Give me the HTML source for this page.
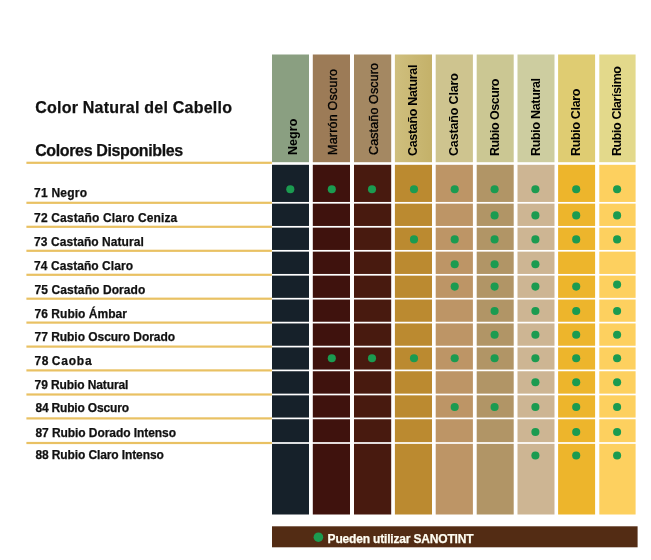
<!DOCTYPE html>
<html lang="es">
<head>
<meta charset="utf-8">
<title>Color Natural del Cabello</title>
<style>
html,body{margin:0;padding:0;background:#fff;}
body{width:651px;height:560px;position:relative;overflow:hidden;font-family:'Liberation Sans',sans-serif;color:#111;}
.abs,.t,.v{position:absolute;}
.t,.v{white-space:nowrap;font-weight:bold;line-height:1;-webkit-text-stroke:0.25px currentColor;}
.v{transform-origin:0 0;transform:rotate(-90deg);color:#000;-webkit-text-stroke:0;}
.m{-webkit-text-stroke:0.35px #000;}
</style>
</head>
<body>
<svg class="abs" style="left:0;top:0" width="651" height="560" viewBox="0 0 651 560">
<defs><linearGradient id="g4" x1="0" x2="1" y1="0" y2="0"><stop offset="0" stop-color="#cfbf7e"/><stop offset="1" stop-color="#c4b169"/></linearGradient></defs>
<rect x="272" y="54.5" width="37" height="107.7" fill="#8a9f81"/>
<rect x="312.8" y="54.5" width="37.2" height="107.7" fill="#9c7b57"/>
<rect x="354.0" y="54.5" width="37.2" height="107.7" fill="#a48862"/>
<rect x="394.9" y="54.5" width="37.1" height="107.7" fill="url(#g4)"/>
<rect x="435.7" y="54.5" width="37.2" height="107.7" fill="#cec48f"/>
<rect x="476.7" y="54.5" width="37" height="107.7" fill="#cbc793"/>
<rect x="517.5" y="54.5" width="37" height="107.7" fill="#cdcda0"/>
<rect x="558.1" y="54.5" width="37" height="107.7" fill="#dfcc72"/>
<rect x="599.3" y="54.5" width="36.3" height="107.7" fill="#e3d98b"/>
<rect x="272" y="164.80" width="37" height="37.15" fill="#16212a"/>
<rect x="272" y="203.65" width="37" height="22.30" fill="#16212a"/>
<rect x="272" y="227.65" width="37" height="22.30" fill="#16212a"/>
<rect x="272" y="251.65" width="37" height="22.30" fill="#16212a"/>
<rect x="272" y="275.65" width="37" height="22.20" fill="#16212a"/>
<rect x="272" y="299.55" width="37" height="22.20" fill="#16212a"/>
<rect x="272" y="323.45" width="37" height="22.30" fill="#16212a"/>
<rect x="272" y="347.45" width="37" height="22.10" fill="#16212a"/>
<rect x="272" y="371.25" width="37" height="22.40" fill="#16212a"/>
<rect x="272" y="395.35" width="37" height="22.20" fill="#16212a"/>
<rect x="272" y="419.25" width="37" height="22.90" fill="#16212a"/>
<rect x="272" y="443.85" width="37" height="70.65" fill="#16212a"/>
<rect x="312.8" y="164.80" width="37.2" height="37.15" fill="#3f120d"/>
<rect x="312.8" y="203.65" width="37.2" height="22.30" fill="#3f120d"/>
<rect x="312.8" y="227.65" width="37.2" height="22.30" fill="#3f120d"/>
<rect x="312.8" y="251.65" width="37.2" height="22.30" fill="#3f120d"/>
<rect x="312.8" y="275.65" width="37.2" height="22.20" fill="#3f120d"/>
<rect x="312.8" y="299.55" width="37.2" height="22.20" fill="#3f120d"/>
<rect x="312.8" y="323.45" width="37.2" height="22.30" fill="#3f120d"/>
<rect x="312.8" y="347.45" width="37.2" height="22.10" fill="#3f120d"/>
<rect x="312.8" y="371.25" width="37.2" height="22.40" fill="#3f120d"/>
<rect x="312.8" y="395.35" width="37.2" height="22.20" fill="#3f120d"/>
<rect x="312.8" y="419.25" width="37.2" height="22.90" fill="#3f120d"/>
<rect x="312.8" y="443.85" width="37.2" height="70.65" fill="#3f120d"/>
<rect x="354.0" y="164.80" width="37.2" height="37.15" fill="#481a0f"/>
<rect x="354.0" y="203.65" width="37.2" height="22.30" fill="#481a0f"/>
<rect x="354.0" y="227.65" width="37.2" height="22.30" fill="#481a0f"/>
<rect x="354.0" y="251.65" width="37.2" height="22.30" fill="#481a0f"/>
<rect x="354.0" y="275.65" width="37.2" height="22.20" fill="#481a0f"/>
<rect x="354.0" y="299.55" width="37.2" height="22.20" fill="#481a0f"/>
<rect x="354.0" y="323.45" width="37.2" height="22.30" fill="#481a0f"/>
<rect x="354.0" y="347.45" width="37.2" height="22.10" fill="#481a0f"/>
<rect x="354.0" y="371.25" width="37.2" height="22.40" fill="#481a0f"/>
<rect x="354.0" y="395.35" width="37.2" height="22.20" fill="#481a0f"/>
<rect x="354.0" y="419.25" width="37.2" height="22.90" fill="#481a0f"/>
<rect x="354.0" y="443.85" width="37.2" height="70.65" fill="#481a0f"/>
<rect x="394.9" y="164.80" width="37.1" height="37.15" fill="#bb8a30"/>
<rect x="394.9" y="203.65" width="37.1" height="22.30" fill="#bb8a30"/>
<rect x="394.9" y="227.65" width="37.1" height="22.30" fill="#bb8a30"/>
<rect x="394.9" y="251.65" width="37.1" height="22.30" fill="#bb8a30"/>
<rect x="394.9" y="275.65" width="37.1" height="22.20" fill="#bb8a30"/>
<rect x="394.9" y="299.55" width="37.1" height="22.20" fill="#bb8a30"/>
<rect x="394.9" y="323.45" width="37.1" height="22.30" fill="#bb8a30"/>
<rect x="394.9" y="347.45" width="37.1" height="22.10" fill="#bb8a30"/>
<rect x="394.9" y="371.25" width="37.1" height="22.40" fill="#bb8a30"/>
<rect x="394.9" y="395.35" width="37.1" height="22.20" fill="#bb8a30"/>
<rect x="394.9" y="419.25" width="37.1" height="22.90" fill="#bb8a30"/>
<rect x="394.9" y="443.85" width="37.1" height="70.65" fill="#bb8a30"/>
<rect x="435.7" y="164.80" width="37.2" height="37.15" fill="#bd9566"/>
<rect x="435.7" y="203.65" width="37.2" height="22.30" fill="#bd9566"/>
<rect x="435.7" y="227.65" width="37.2" height="22.30" fill="#bd9566"/>
<rect x="435.7" y="251.65" width="37.2" height="22.30" fill="#bd9566"/>
<rect x="435.7" y="275.65" width="37.2" height="22.20" fill="#bd9566"/>
<rect x="435.7" y="299.55" width="37.2" height="22.20" fill="#bd9566"/>
<rect x="435.7" y="323.45" width="37.2" height="22.30" fill="#bd9566"/>
<rect x="435.7" y="347.45" width="37.2" height="22.10" fill="#bd9566"/>
<rect x="435.7" y="371.25" width="37.2" height="22.40" fill="#bd9566"/>
<rect x="435.7" y="395.35" width="37.2" height="22.20" fill="#bd9566"/>
<rect x="435.7" y="419.25" width="37.2" height="22.90" fill="#bd9566"/>
<rect x="435.7" y="443.85" width="37.2" height="70.65" fill="#bd9566"/>
<rect x="476.7" y="164.80" width="37" height="37.15" fill="#b19566"/>
<rect x="476.7" y="203.65" width="37" height="22.30" fill="#b19566"/>
<rect x="476.7" y="227.65" width="37" height="22.30" fill="#b19566"/>
<rect x="476.7" y="251.65" width="37" height="22.30" fill="#b19566"/>
<rect x="476.7" y="275.65" width="37" height="22.20" fill="#b19566"/>
<rect x="476.7" y="299.55" width="37" height="22.20" fill="#b19566"/>
<rect x="476.7" y="323.45" width="37" height="22.30" fill="#b19566"/>
<rect x="476.7" y="347.45" width="37" height="22.10" fill="#b19566"/>
<rect x="476.7" y="371.25" width="37" height="22.40" fill="#b19566"/>
<rect x="476.7" y="395.35" width="37" height="22.20" fill="#b19566"/>
<rect x="476.7" y="419.25" width="37" height="22.90" fill="#b19566"/>
<rect x="476.7" y="443.85" width="37" height="70.65" fill="#b19566"/>
<rect x="517.5" y="164.80" width="37" height="37.15" fill="#cdb593"/>
<rect x="517.5" y="203.65" width="37" height="22.30" fill="#cdb593"/>
<rect x="517.5" y="227.65" width="37" height="22.30" fill="#cdb593"/>
<rect x="517.5" y="251.65" width="37" height="22.30" fill="#cdb593"/>
<rect x="517.5" y="275.65" width="37" height="22.20" fill="#cdb593"/>
<rect x="517.5" y="299.55" width="37" height="22.20" fill="#cdb593"/>
<rect x="517.5" y="323.45" width="37" height="22.30" fill="#cdb593"/>
<rect x="517.5" y="347.45" width="37" height="22.10" fill="#cdb593"/>
<rect x="517.5" y="371.25" width="37" height="22.40" fill="#cdb593"/>
<rect x="517.5" y="395.35" width="37" height="22.20" fill="#cdb593"/>
<rect x="517.5" y="419.25" width="37" height="22.90" fill="#cdb593"/>
<rect x="517.5" y="443.85" width="37" height="70.65" fill="#cdb593"/>
<rect x="558.1" y="164.80" width="37" height="37.15" fill="#edb52c"/>
<rect x="558.1" y="203.65" width="37" height="22.30" fill="#edb52c"/>
<rect x="558.1" y="227.65" width="37" height="22.30" fill="#edb52c"/>
<rect x="558.1" y="251.65" width="37" height="22.30" fill="#edb52c"/>
<rect x="558.1" y="275.65" width="37" height="22.20" fill="#edb52c"/>
<rect x="558.1" y="299.55" width="37" height="22.20" fill="#edb52c"/>
<rect x="558.1" y="323.45" width="37" height="22.30" fill="#edb52c"/>
<rect x="558.1" y="347.45" width="37" height="22.10" fill="#edb52c"/>
<rect x="558.1" y="371.25" width="37" height="22.40" fill="#edb52c"/>
<rect x="558.1" y="395.35" width="37" height="22.20" fill="#edb52c"/>
<rect x="558.1" y="419.25" width="37" height="22.90" fill="#edb52c"/>
<rect x="558.1" y="443.85" width="37" height="70.65" fill="#edb52c"/>
<rect x="599.3" y="164.80" width="36.3" height="37.15" fill="#fdd05f"/>
<rect x="599.3" y="203.65" width="36.3" height="22.30" fill="#fdd05f"/>
<rect x="599.3" y="227.65" width="36.3" height="22.30" fill="#fdd05f"/>
<rect x="599.3" y="251.65" width="36.3" height="22.30" fill="#fdd05f"/>
<rect x="599.3" y="275.65" width="36.3" height="22.20" fill="#fdd05f"/>
<rect x="599.3" y="299.55" width="36.3" height="22.20" fill="#fdd05f"/>
<rect x="599.3" y="323.45" width="36.3" height="22.30" fill="#fdd05f"/>
<rect x="599.3" y="347.45" width="36.3" height="22.10" fill="#fdd05f"/>
<rect x="599.3" y="371.25" width="36.3" height="22.40" fill="#fdd05f"/>
<rect x="599.3" y="395.35" width="36.3" height="22.20" fill="#fdd05f"/>
<rect x="599.3" y="419.25" width="36.3" height="22.90" fill="#fdd05f"/>
<rect x="599.3" y="443.85" width="36.3" height="70.65" fill="#fdd05f"/>
<rect x="26.4" y="161.70" width="245.5" height="2.2" fill="#e9c163"/>
<rect x="26.4" y="201.70" width="245.5" height="2.2" fill="#e9c163"/>
<rect x="26.4" y="225.70" width="245.5" height="2.2" fill="#e9c163"/>
<rect x="26.4" y="249.70" width="245.5" height="2.2" fill="#e9c163"/>
<rect x="26.4" y="273.70" width="245.5" height="2.2" fill="#e9c163"/>
<rect x="26.4" y="297.60" width="245.5" height="2.2" fill="#e9c163"/>
<rect x="26.4" y="321.50" width="245.5" height="2.2" fill="#e9c163"/>
<rect x="26.4" y="345.50" width="245.5" height="2.2" fill="#e9c163"/>
<rect x="26.4" y="369.30" width="245.5" height="2.2" fill="#e9c163"/>
<rect x="26.4" y="393.40" width="245.5" height="2.2" fill="#e9c163"/>
<rect x="26.4" y="417.30" width="245.5" height="2.2" fill="#e9c163"/>
<rect x="26.4" y="441.90" width="245.5" height="2.2" fill="#e9c163"/>
<circle cx="290.3" cy="189.2" r="4.05" fill="#1b9b50"/>
<circle cx="331.8" cy="189.2" r="4.05" fill="#1b9b50"/>
<circle cx="372.0" cy="189.2" r="4.05" fill="#1b9b50"/>
<circle cx="414.0" cy="189.2" r="4.05" fill="#1b9b50"/>
<circle cx="454.7" cy="189.2" r="4.05" fill="#1b9b50"/>
<circle cx="494.6" cy="189.2" r="4.05" fill="#1b9b50"/>
<circle cx="535.4" cy="189.2" r="4.05" fill="#1b9b50"/>
<circle cx="576.2" cy="189.2" r="4.05" fill="#1b9b50"/>
<circle cx="617.1" cy="189.2" r="4.05" fill="#1b9b50"/>
<circle cx="494.6" cy="215.4" r="4.05" fill="#1b9b50"/>
<circle cx="535.4" cy="215.4" r="4.05" fill="#1b9b50"/>
<circle cx="576.2" cy="215.4" r="4.05" fill="#1b9b50"/>
<circle cx="617.1" cy="215.4" r="4.05" fill="#1b9b50"/>
<circle cx="414.0" cy="239.4" r="4.05" fill="#1b9b50"/>
<circle cx="454.7" cy="239.4" r="4.05" fill="#1b9b50"/>
<circle cx="494.6" cy="239.4" r="4.05" fill="#1b9b50"/>
<circle cx="535.4" cy="239.4" r="4.05" fill="#1b9b50"/>
<circle cx="576.2" cy="239.4" r="4.05" fill="#1b9b50"/>
<circle cx="617.1" cy="239.4" r="4.05" fill="#1b9b50"/>
<circle cx="454.7" cy="264.2" r="4.05" fill="#1b9b50"/>
<circle cx="494.6" cy="264.2" r="4.05" fill="#1b9b50"/>
<circle cx="535.4" cy="264.2" r="4.05" fill="#1b9b50"/>
<circle cx="454.7" cy="286.6" r="4.05" fill="#1b9b50"/>
<circle cx="494.6" cy="286.6" r="4.05" fill="#1b9b50"/>
<circle cx="535.4" cy="286.6" r="4.05" fill="#1b9b50"/>
<circle cx="576.2" cy="286.6" r="4.05" fill="#1b9b50"/>
<circle cx="617.1" cy="284.6" r="4.05" fill="#1b9b50"/>
<circle cx="494.6" cy="311.0" r="4.05" fill="#1b9b50"/>
<circle cx="535.4" cy="311.0" r="4.05" fill="#1b9b50"/>
<circle cx="576.2" cy="311.0" r="4.05" fill="#1b9b50"/>
<circle cx="617.1" cy="311.0" r="4.05" fill="#1b9b50"/>
<circle cx="494.6" cy="334.7" r="4.05" fill="#1b9b50"/>
<circle cx="535.4" cy="334.7" r="4.05" fill="#1b9b50"/>
<circle cx="576.2" cy="334.7" r="4.05" fill="#1b9b50"/>
<circle cx="617.1" cy="334.7" r="4.05" fill="#1b9b50"/>
<circle cx="331.8" cy="358.2" r="4.05" fill="#1b9b50"/>
<circle cx="372.0" cy="358.2" r="4.05" fill="#1b9b50"/>
<circle cx="414.0" cy="358.2" r="4.05" fill="#1b9b50"/>
<circle cx="454.7" cy="358.2" r="4.05" fill="#1b9b50"/>
<circle cx="494.6" cy="358.2" r="4.05" fill="#1b9b50"/>
<circle cx="535.4" cy="358.2" r="4.05" fill="#1b9b50"/>
<circle cx="576.2" cy="358.2" r="4.05" fill="#1b9b50"/>
<circle cx="617.1" cy="358.2" r="4.05" fill="#1b9b50"/>
<circle cx="535.4" cy="382.3" r="4.05" fill="#1b9b50"/>
<circle cx="576.2" cy="382.3" r="4.05" fill="#1b9b50"/>
<circle cx="617.1" cy="382.3" r="4.05" fill="#1b9b50"/>
<circle cx="454.7" cy="407.0" r="4.05" fill="#1b9b50"/>
<circle cx="494.6" cy="407.0" r="4.05" fill="#1b9b50"/>
<circle cx="535.4" cy="407.0" r="4.05" fill="#1b9b50"/>
<circle cx="576.2" cy="407.0" r="4.05" fill="#1b9b50"/>
<circle cx="617.1" cy="407.0" r="4.05" fill="#1b9b50"/>
<circle cx="535.4" cy="432.0" r="4.05" fill="#1b9b50"/>
<circle cx="576.2" cy="432.0" r="4.05" fill="#1b9b50"/>
<circle cx="617.1" cy="432.0" r="4.05" fill="#1b9b50"/>
<circle cx="535.4" cy="455.5" r="4.05" fill="#1b9b50"/>
<circle cx="576.2" cy="455.5" r="4.05" fill="#1b9b50"/>
<circle cx="617.1" cy="455.5" r="4.05" fill="#1b9b50"/>
<rect x="272" y="526.3" width="365.6" height="21" fill="#532c14"/>
<circle cx="318.4" cy="537.2" r="4.8" fill="#1b9b50"/>
</svg>
<div class="t" style="left:34.1px;top:186.9px;font-size:12px;letter-spacing:0.220px;color:#111">71 Negro</div>
<div class="t" style="left:34.1px;top:211.5px;font-size:12px;letter-spacing:0.143px;color:#111">72 Castaño Claro Ceniza</div>
<div class="t" style="left:34.1px;top:235.8px;font-size:12px;letter-spacing:0.059px;color:#111">73 Castaño Natural</div>
<div class="t" style="left:34.1px;top:260.0px;font-size:12px;letter-spacing:0.057px;color:#111">74 Castaño Claro</div>
<div class="t" style="left:34.6px;top:283.9px;font-size:12px;letter-spacing:0.084px;color:#111">75 Castaño Dorado</div>
<div class="t" style="left:34.6px;top:307.8px;font-size:12px;letter-spacing:0.022px;color:#111">76 Rubio Ámbar</div>
<div class="t" style="left:34.6px;top:331.2px;font-size:12px;letter-spacing:-0.041px;color:#111">77 Rubio Oscuro Dorado</div>
<div class="t" style="left:34.4px;top:354.5px;font-size:12px;letter-spacing:0.777px;word-spacing:-1.6px;color:#111">78 Caoba</div>
<div class="t" style="left:34.6px;top:378.8px;font-size:12px;letter-spacing:-0.104px;color:#111">79 Rubio Natural</div>
<div class="t" style="left:35.4px;top:401.6px;font-size:12px;letter-spacing:-0.174px;color:#111">84 Rubio Oscuro</div>
<div class="t" style="left:35.4px;top:426.8px;font-size:12px;letter-spacing:-0.064px;color:#111">87 Rubio Dorado Intenso</div>
<div class="t" style="left:35.4px;top:448.6px;font-size:12px;letter-spacing:-0.109px;color:#111">88 Rubio Claro Intenso</div>
<div class="t" style="left:35.2px;top:99.7px;font-size:16px;letter-spacing:0.236px;color:#111">Color Natural del Cabello</div>
<div class="t" style="left:35.2px;top:142.8px;font-size:16px;letter-spacing:-0.372px;color:#111">Colores Disponibles</div>
<div class="v" style="left:286.8px;top:155.3px;font-size:12.5px;font-weight:bold;letter-spacing:0.044px">Negro</div>
<div class="v m" style="left:327.1px;top:155.3px;font-size:12.5px;font-weight:normal;letter-spacing:0.220px">Marrón Oscuro</div>
<div class="v m" style="left:368.0px;top:155.3px;font-size:12.5px;font-weight:normal;letter-spacing:0.129px">Castaño Oscuro</div>
<div class="v" style="left:406.8px;top:156.0px;font-size:12.5px;font-weight:bold;letter-spacing:-0.319px">Castaño Natural</div>
<div class="v" style="left:448.4px;top:156.0px;font-size:12.5px;font-weight:bold;letter-spacing:-0.154px">Castaño Claro</div>
<div class="v" style="left:488.7px;top:156.0px;font-size:12.5px;font-weight:bold;letter-spacing:-0.469px">Rubio Oscuro</div>
<div class="v" style="left:530.0px;top:156.0px;font-size:12.5px;font-weight:bold;letter-spacing:-0.321px">Rubio Natural</div>
<div class="v" style="left:570.4px;top:156.0px;font-size:12.5px;font-weight:bold;letter-spacing:-0.344px">Rubio Claro</div>
<div class="v" style="left:610.8px;top:156.0px;font-size:12.5px;font-weight:bold;letter-spacing:-0.417px">Rubio Clarísimo</div>
<div class="t" style="left:327.6px;top:533.1px;font-size:12px;letter-spacing:-0.175px;color:#fffdf2">Pueden utilizar SANOTINT</div>
</body>
</html>
